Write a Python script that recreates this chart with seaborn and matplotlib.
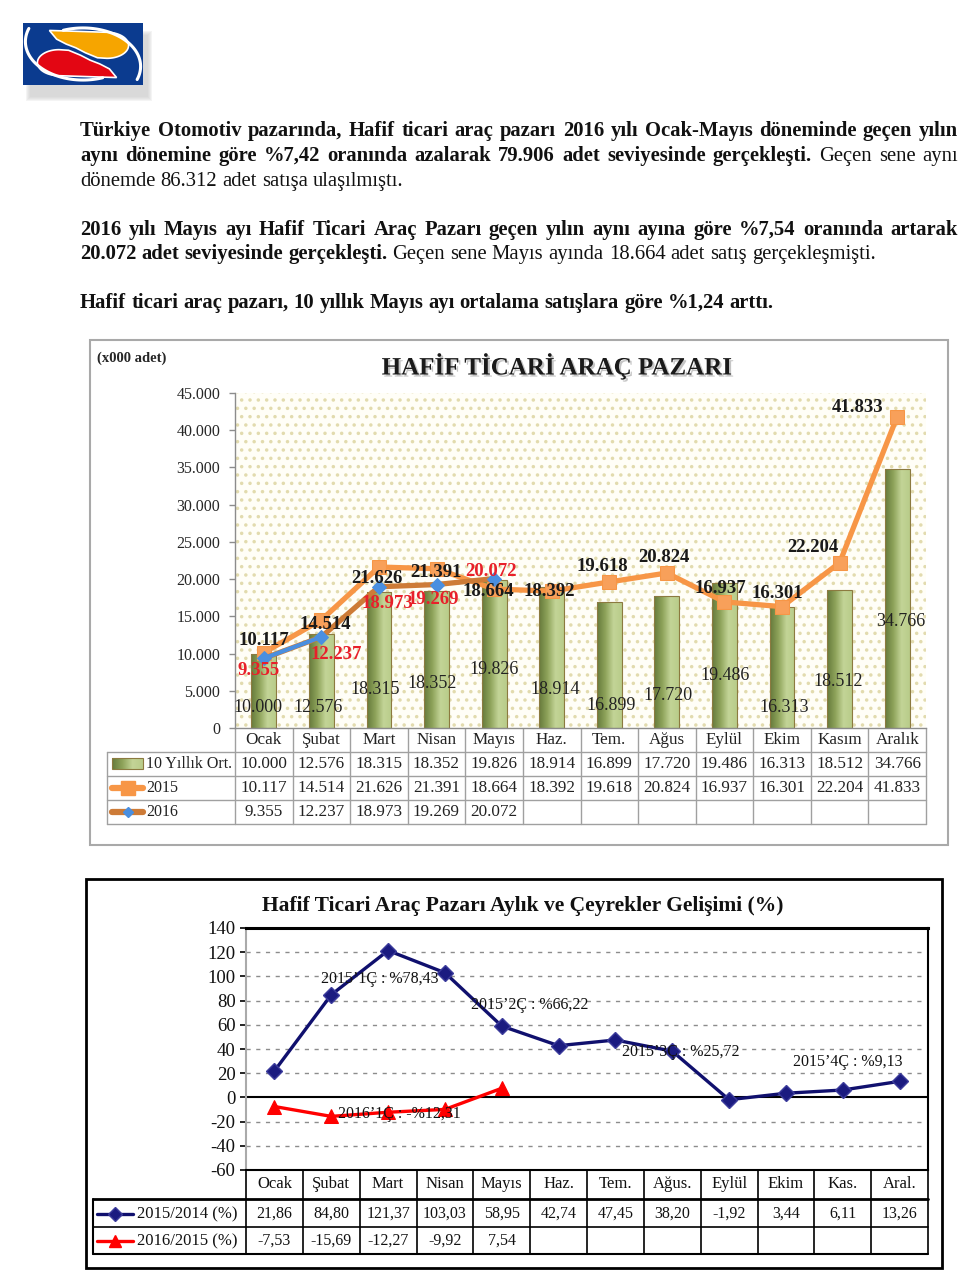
import numpy as np
import pandas as pd
import matplotlib
matplotlib.use("Agg")
import matplotlib.pyplot as plt
import seaborn as sns
from matplotlib.patches import Rectangle, Polygon
from matplotlib.lines import Line2D
from matplotlib.colors import LinearSegmentedColormap
import matplotlib.patheffects as pe

# ---------------- data ----------------
months_1 = ["Ocak", "Şubat", "Mart", "Nisan", "Mayıs", "Haz.", "Tem.", "Ağus",
            "Eylül", "Ekim", "Kasım", "Aralık"]
avg_10yr = [10000, 12576, 18315, 18352, 19826, 18914, 16899, 17720, 19486, 16313, 18512, 34766]
sales_2015 = [10117, 14514, 21626, 21391, 18664, 18392, 19618, 20824, 16937, 16301, 22204, 41833]
sales_2016 = [9355, 12237, 18973, 19269, 20072]
yticks_1 = [0, 5000, 10000, 15000, 20000, 25000, 30000, 35000, 40000, 45000]
series_names_1 = ["10 Yıllık Ort.", "2015", "2016"]

months_2 = ["Ocak", "Şubat", "Mart", "Nisan", "Mayıs", "Haz.", "Tem.", "Ağus.",
            "Eylül", "Ekim", "Kas.", "Aral."]
chg_2015 = [21.86, 84.80, 121.37, 103.03, 58.95, 42.74, 47.45, 38.20, -1.92, 3.44, 6.11, 13.26]
chg_2016 = [-7.53, -15.69, -12.27, -9.92, 7.54]
yticks_2 = [-60, -40, -20, 0, 20, 40, 60, 80, 100, 120, 140]
series_names_2 = ["2015/2014 (%)", "2016/2015 (%)"]
quarter_notes = ["2015’1Ç : %78,43", "2015’2Ç : %66,22", "2015’3Ç : %25,72",
                 "2015’4Ç : %9,13", "2016’1Ç : -%12,31"]
quarter_note_xy = [(1.86, 97.5), (4.50, 76.0), (7.15, 37.2), (10.08, 28.9), (2.19, -14.0)]

paragraphs = [
    ([("Türkiye Otomotiv pazarında, Hafif ticari araç pazarı 2016 yılı Ocak-Mayıs döneminde geçen yılın", "bold")], 136, True),
    ([("aynı dönemine göre %7,42 oranında azalarak 79.906 adet seviyesinde gerçekleşti.", "bold"),
      ("Geçen sene aynı", "normal")], 161, True),
    ([("dönemde 86.312 adet satışa ulaşılmıştı.", "normal")], 186, False),
    ([("2016 yılı Mayıs ayı Hafif Ticari Araç Pazarı geçen yılın aynı ayına göre %7,54 oranında artarak", "bold")], 235, True),
    ([("20.072 adet seviyesinde gerçekleşti.", "bold"),
      ("Geçen sene Mayıs ayında 18.664 adet satış gerçekleşmişti.", "normal")], 259, False),
    ([("Hafif ticari araç pazarı, 10 yıllık Mayıs ayı ortalama satışlara göre %1,24 arttı.", "bold")], 308, False),
]


def fmt_th(v):
    return f"{v:,}".replace(",", ".")


def fmt_pct(v):
    return f"{v:.2f}".replace(".", ",")


# ---------------- style ----------------
sns.set_style("white")
SERIF = "Liberation Serif"
plt.rcParams["font.family"] = [SERIF, "DejaVu Serif"]
plt.rcParams["hatch.linewidth"] = 1.3

W, H = 960, 1271
fig = plt.figure(figsize=(W / 100, H / 100), dpi=100)
fig.patch.set_facecolor("white")


def R(x0, y0, x1, y1):
    return [x0 / W, 1 - y1 / H, (x1 - x0) / W, (y1 - y0) / H]


ov = fig.add_axes([0, 0, 1, 1], zorder=0)
ov.set_xlim(0, W)
ov.set_ylim(H, 0)
ov.axis("off")
renderer = fig.canvas.get_renderer()


def tw(s, size, weight):
    t = ov.text(0, 0, s, fontsize=size, fontweight=weight)
    w = t.get_window_extent(renderer).width
    t.remove()
    return w


# ---------------- logo ----------------
for k, a in enumerate([0.04, 0.05, 0.06, 0.07, 0.08]):
    d = 5 - k
    ov.add_patch(Rectangle((25 + d, 30 + d), 128 - 2 * d, 72 - 2 * d, facecolor="#7a7a7a",
                           edgecolor="none", alpha=a, zorder=1))
lg = fig.add_axes(R(23, 23, 143, 85), zorder=3)
lg.set_xlim(0, 1)
lg.set_ylim(0, 1)
lg.axis("off")
lg.add_patch(Rectangle((0, 0), 1, 1, facecolor="#0B3B8F", edgecolor="none"))
# white swoosh bands
tt = np.radians(np.linspace(110, -20, 60))
lg.plot(0.50 + 0.48 * np.cos(tt), 0.30 + 0.62 * np.sin(tt), color="white", lw=2.2)
lg.plot(0.50 - 0.48 * np.cos(tt), 0.70 - 0.62 * np.sin(tt), color="white", lw=2.2)
# orange / red crescents
arc = np.radians(np.linspace(90, -90, 40))
top_edge = np.c_[np.linspace(0.22, 0.70, 20), np.linspace(0.88, 0.85, 20)]
round_end = np.c_[0.70 + 0.18 * np.cos(arc), 0.64 + 0.21 * np.sin(arc)]
lower = np.c_[[0.62, 0.52, 0.44, 0.36, 0.28], [0.44, 0.52, 0.60, 0.66, 0.74]]
orange_poly = np.vstack([top_edge, round_end, lower])
red_poly = 1 - orange_poly
lg.add_patch(Polygon(orange_poly, closed=True, facecolor="#F6A500", edgecolor="white", lw=1.2))
lg.add_patch(Polygon(red_poly, closed=True, facecolor="#E30613", edgecolor="white", lw=1.2))
lg.set_xlim(0, 1)
lg.set_ylim(0, 1)

# ---------------- paragraphs ----------------
def words_of(segs):
    out = []
    for s, wt in segs:
        out += [(w, wt) for w in s.split()]
    return out


base = 12.0
sp_base = tw("a a", base, "normal") - tw("aa", base, "normal")


def natural_width(segs, size):
    ws = words_of(segs)
    sp = sp_base * size / base
    return sum(tw(w, size, wt) for w, wt in ws) + sp * (len(ws) - 1)


fs = base * 691 / natural_width(paragraphs[5][0], base)
w_first = natural_width(paragraphs[0][0], fs)
if w_first > 870:
    fs *= 870 / w_first
space = sp_base * fs / base

for segs, yb, just in paragraphs:
    ws = words_of(segs)
    widths = [tw(w, fs, wt) for w, wt in ws]
    gap = (958 - 80 - sum(widths)) / (len(ws) - 1) if just else space
    x = 80
    for (w, wt), wd in zip(ws, widths):
        ov.text(x, yb, w, fontsize=fs, fontweight=wt, va="baseline", ha="left", color="#111111")
        x += wd + gap

# ---------------- chart 1 ----------------
ov.add_patch(Rectangle((90, 340), 858, 505, fill=False, ec="#A9A9A9", lw=1.5))
ov.text(557, 366, "HAFİF TİCARİ ARAÇ PAZARI", fontsize=18, fontweight="bold", ha="center",
        va="center", color="#1a1a1a",
        path_effects=[pe.withSimplePatchShadow(offset=(1.5, -1.5), shadow_rgbFace="gray", alpha=0.45)])
ov.text(97, 358, "(x000 adet)", fontsize=10.5, fontweight="bold", ha="left", va="center")

ax1 = fig.add_axes(R(235, 393, 926, 728), zorder=2)
ax1.patch.set_alpha(0)
df1 = pd.DataFrame({"Ay": months_1, "Ort": avg_10yr})
sns.barplot(data=df1, x="Ay", y="Ort", ax=ax1, width=0.43, color="#9BB062", saturation=1,
            edgecolor="#8C7A40", linewidth=0.8, zorder=2)
bars = list(ax1.containers[0])
ax1.add_patch(Rectangle((0, 0), 1, 1, transform=ax1.transAxes, facecolor="#FFFEF7",
                        edgecolor="#E2DBAE", hatch="..", lw=0, zorder=0))
gcmap = LinearSegmentedColormap.from_list("g", ["#667A3C", "#8EA35A", "#C3D497", "#B9CC8A"])
grad = np.linspace(0, 1, 64).reshape(1, -1)
for p in bars:
    x, y, w, h = p.get_x(), p.get_y(), p.get_width(), p.get_height()
    im = ax1.imshow(grad, extent=[x, x + w, y, y + h], aspect="auto", cmap=gcmap, zorder=1.5,
                    interpolation="bilinear")
    im.set_clip_path(p)
    p.set_facecolor("none")

x12 = np.arange(len(sales_2015))
x5 = np.arange(len(sales_2016))
sns.lineplot(x=x12, y=sales_2015, ax=ax1, color="#F79646", linewidth=3.8, marker="s",
             markersize=10, markerfacecolor="#F8A05A", markeredgecolor="#F79646", zorder=4)
sns.lineplot(x=x5, y=sales_2016, ax=ax1, color="#CD7B37", linewidth=3.8, marker="D",
             markersize=7, markerfacecolor="#4A8FE0", markeredgecolor="#4A8FE0", zorder=5)
sns.lineplot(x=x5[:2], y=sales_2016[:2], ax=ax1, color="#4A8FE0", linewidth=3.0, zorder=5.5)

ax1.set_xlim(-0.5, 11.5)
ax1.set_ylim(0, 45000)
ax1.set_yticks(yticks_1)
ax1.set_yticklabels([fmt_th(v) for v in yticks_1], fontsize=11.5, color="#262626")
ax1.tick_params(axis="y", left=True, direction="out", length=4.5, width=1, color="#8C8C8C", pad=6)
ax1.set_xticks([])
ax1.set_xlabel("")
ax1.set_ylabel("")
for s in ["top", "right"]:
    ax1.spines[s].set_visible(False)
for s in ["left", "bottom"]:
    ax1.spines[s].set_color("#8C8C8C")
    ax1.spines[s].set_linewidth(1)

off_2015 = [(0, -12), (4, 5), (-2, 11), (-1, 4), (-6, 2), (-2, 0), (-7, -15), (-3, -15),
            (-4, -13), (-5, -13), (-27, -15), (-40, -9)]
off_2016 = [(-5, 12), (15, 18), (8, 17), (-3, 15), (-3, -7)]
off_bar = [(-6, -21), (-3, -21), (-4, -38), (-4, -44), (0, -58), (3, -38), (2, -22), (1, -32),
           (1, -53), (2, -21), (-1, -46), (4, -107)]
for i, v in enumerate(avg_10yr):
    dx, dy = off_bar[i]
    ax1.annotate(fmt_th(v), (i, 0), xytext=(dx * 0.72, -dy * 0.72), textcoords="offset points",
                 ha="center", va="center", fontsize=13, color="#222222", zorder=6)
for i, v in enumerate(sales_2015):
    dx, dy = off_2015[i]
    ax1.annotate(fmt_th(v), (i, v), xytext=(dx * 0.72, -dy * 0.72), textcoords="offset points",
                 ha="center", va="center", fontsize=13.5, fontweight="bold", color="#1a1a1a", zorder=7)
for i, v in enumerate(sales_2016):
    dx, dy = off_2016[i]
    ax1.annotate(fmt_th(v), (i, v), xytext=(dx * 0.72, -dy * 0.72), textcoords="offset points",
                 ha="center", va="center", fontsize=13.5, fontweight="bold", color="#E8202A", zorder=7)

# table 1
c0, c1 = 235, 926
cw = (c1 - c0) / 12
gcol = "#A0A0A0"
for k in range(13):
    xx = c0 + k * cw
    ov.plot([xx, xx], [728, 824], color=gcol, lw=1)
ov.plot([107, 107], [752, 824], color=gcol, lw=1)
for yy in [752, 776, 800, 824]:
    ov.plot([107, c1], [yy, yy], color=gcol, lw=1)
for i, m in enumerate(months_1):
    ov.text(c0 + (i + 0.5) * cw, 740, m, ha="center", va="center", fontsize=12.3, color="#222")
rows1 = [avg_10yr, sales_2015, sales_2016]
for r, vals in enumerate(rows1):
    yc = 764 + 24 * r
    for i, v in enumerate(vals):
        ov.text(c0 + (i + 0.5) * cw, yc, fmt_th(v), ha="center", va="center", fontsize=12.3, color="#222")
    ov.text(146, yc, series_names_1[r], ha="left", va="center", fontsize=11.5, color="#222")
# legend keys
kimg = ov.imshow(grad, extent=[112, 143, 769, 758], aspect="auto", cmap=gcmap, zorder=2)
ov.add_patch(Rectangle((112, 758), 31, 11, fill=False, ec="#8C7A40", lw=0.8, zorder=3))
ov.add_line(Line2D([112, 127.5, 143], [788, 788, 788], color="#F79646", lw=4.5, marker="s",
                   markersize=10, markevery=[1], zorder=3))
ov.add_line(Line2D([112, 127.5, 143], [812, 812, 812], color="#CD7B37", lw=4.5, marker="D",
                   markersize=5, markerfacecolor="#4A8FE0", markeredgecolor="#4A8FE0",
                   markevery=[1], zorder=3))
ov.set_xlim(0, W)
ov.set_ylim(H, 0)

# ---------------- chart 2 ----------------
ov.add_patch(Rectangle((86, 879), 856, 389, fill=False, ec="black", lw=2))
ov.text(523, 906, "Hafif Ticari Araç Pazarı Aylık ve Çeyrekler Gelişimi (%)", fontsize=15.5,
        fontweight="bold", ha="center", va="center", color="#111")

ax2 = fig.add_axes(R(246, 928, 928, 1170), zorder=2)
ax2.patch.set_alpha(0)
sns.lineplot(x=np.arange(len(chg_2015)), y=chg_2015, ax=ax2, color="#10106E", linewidth=2.4,
             marker="D", markersize=8.5, markerfacecolor="#1B1B80", markeredgecolor="#3C3C9C",
             markeredgewidth=1, zorder=4)
sns.lineplot(x=np.arange(len(chg_2016)), y=chg_2016, ax=ax2, color="#FF0000", linewidth=2.4,
             marker="^", markersize=10.5, markerfacecolor="#FF0000", markeredgecolor="#FF0000",
             zorder=4)
ax2.set_xlim(-0.5, 11.5)
ax2.set_ylim(-60, 140)
ax2.set_yticks(yticks_2)
ax2.set_yticklabels([str(v) for v in yticks_2], fontsize=13.5, color="#111")
ax2.tick_params(axis="y", left=True, direction="out", length=4.5, width=1.2, color="black", pad=3)
ax2.set_xticks([])
ax2.set_xlabel("")
ax2.set_ylabel("")
for v in yticks_2:
    if v not in (yticks_2[0], 0, yticks_2[-1]):
        ax2.axhline(v, color="#8C8C8C", lw=1, ls=(0, (3, 4)), zorder=1)
ax2.axhline(0, color="black", lw=1.5, zorder=2)
ax2.spines["top"].set_color("black")
ax2.spines["top"].set_linewidth(2.2)
ax2.spines["right"].set_color("black")
ax2.spines["right"].set_linewidth(1.5)
ax2.spines["bottom"].set_color("black")
ax2.spines["bottom"].set_linewidth(1.5)
ax2.spines["left"].set_color("#AAAAAA")
ax2.spines["left"].set_linewidth(1.5)
for txt, (qx, qy) in zip(quarter_notes, quarter_note_xy):
    ax2.text(qx, qy, txt, fontsize=11.5, ha="center", va="center", color="#111", zorder=5)

# table 2
d0, d1 = 246, 928
dw = (d1 - d0) / 12
for k in range(13):
    xx = d0 + k * dw
    ov.plot([xx, xx], [1170, 1254], color="black", lw=1.2)
ov.plot([93, 93], [1199, 1254], color="black", lw=1.5)
for yy, lw in [(1199, 2.0), (1227, 1.2), (1254, 1.5)]:
    ov.plot([93, d1], [yy, yy], color="black", lw=lw)
for i, m in enumerate(months_2):
    ov.text(d0 + (i + 0.5) * dw, 1184, m, ha="center", va="center", fontsize=12, color="#111")
rows2 = [chg_2015, chg_2016]
for r, vals in enumerate(rows2):
    yc = 1214 + 27 * r
    for i, v in enumerate(vals):
        ov.text(d0 + (i + 0.5) * dw, yc, fmt_pct(v), ha="center", va="center", fontsize=11.5, color="#111")
    ov.text(137, yc, series_names_2[r], ha="left", va="center", fontsize=12, color="#111")
ov.add_line(Line2D([97, 115, 133], [1214, 1214, 1214], color="#10106E", lw=2.4, marker="D",
                   markersize=7, markerfacecolor="#1B1B80", markeredgecolor="#3C3C9C", markevery=[1]))
ov.add_line(Line2D([97, 115, 133], [1241, 1241, 1241], color="#FF0000", lw=2.4, marker="^",
                   markersize=9, markevery=[1]))
ov.set_xlim(0, W)
ov.set_ylim(H, 0)

fig.savefig("out.png", dpi=100, facecolor="white")
